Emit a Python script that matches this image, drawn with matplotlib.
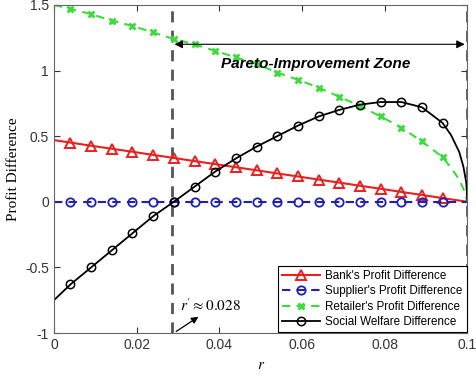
import matplotlib
import matplotlib.pyplot as plt
import numpy as np

matplotlib.use('Agg')

# marker positions along r
r_mark = [0.004, 0.009, 0.014, 0.019, 0.024, 0.029, 0.034, 0.039, 0.044, 0.049,
          0.054, 0.059, 0.064, 0.069, 0.074, 0.079, 0.084, 0.089, 0.094]

# Bank's profit difference (line from r=0 to r=0.1)
bank_r = [0.0] + r_mark + [0.1]
bank = [0.47, 0.451, 0.427, 0.404, 0.381, 0.357, 0.334, 0.310, 0.287, 0.263, 0.240,
        0.216, 0.193, 0.169, 0.146, 0.122, 0.099, 0.075, 0.052, 0.028, 0.0]

# Supplier's profit difference
sup_r = [0.0] + r_mark + [0.1]
sup = [0.0] * len(sup_r)

# Retailer's profit difference
ret_r = [0.0] + r_mark + [0.096, 0.098, 0.099, 0.1]
ret = [1.50, 1.47, 1.43, 1.38, 1.34, 1.29, 1.24, 1.20, 1.15, 1.10, 1.05,
       0.985, 0.93, 0.87, 0.80, 0.73, 0.65, 0.565, 0.46, 0.34,
       0.26, 0.17, 0.10, 0.0]

# Social welfare difference
sw_r = [0.0] + r_mark + [0.096, 0.098, 0.099, 0.0997, 0.1]
sw = [-0.75, -0.63, -0.50, -0.37, -0.24, -0.11, 0.0, 0.115, 0.23, 0.33, 0.42,
      0.50, 0.58, 0.65, 0.70, 0.74, 0.76, 0.76, 0.72, 0.60,
      0.51, 0.38, 0.27, 0.15, 0.0]

r_prime = 0.0285

mk = list(range(1, len(r_mark) + 1))

fig = plt.figure(figsize=(4.77, 3.78), dpi=100)
ax = fig.add_axes([0.113, 0.119, 0.867, 0.868])

ax.plot(bank_r, bank, color='#e82020', lw=1.5, marker='^', ms=6.5, mfc='none', mew=1.4,
        markevery=mk, label="Bank's Profit Difference")
ax.plot(sup_r, sup, color='#2020b8', lw=1.5, ls=(0, (4, 3)), marker='o', ms=6, mfc='none',
        mew=1.3, markevery=mk, label="Supplier's Profit Difference")
ax.plot(ret_r, ret, color='#3ddc3d', lw=1.5, ls=(0, (4, 3)), marker='x', ms=4.5, mew=2,
        markevery=mk, label="Retailer's Profit Difference")
ax.plot(sw_r, sw, color='black', lw=1.3, marker='o', ms=6, mfc='none', mew=1.1,
        markevery=mk, label='Social Welfare Difference')

# zone boundaries
for xv in (r_prime, 0.1):
    ax.plot([xv, xv], [-1, 1.5], color='#555555', lw=2, ls=(0, (4, 3)), zorder=1)

ax.annotate('', xy=(r_prime, 1.2), xytext=(0.1, 1.2),
            arrowprops=dict(arrowstyle='<|-|>', color='black', lw=0.8, mutation_scale=12))
ax.text(0.0634, 1.05, 'Pareto-Improvement Zone', ha='center', va='center',
        fontsize=11, fontweight='bold', fontstyle='italic', family='Liberation Sans')

ax.annotate('', xy=(0.0355, -0.865), xytext=(r_prime + 0.0005, -1.0),
            arrowprops=dict(arrowstyle='-|>', color='black', lw=0.9, mutation_scale=10))
ax.text(0.0305, -0.79, r"$r' \approx 0.028$", fontsize=11, ha='left', va='center',
        math_fontfamily='stix')

ax.set_xlim(0, 0.1)
ax.set_ylim(-1, 1.5)
ax.set_xticks([0, 0.02, 0.04, 0.06, 0.08, 0.1])
ax.set_xticklabels(['0', '0.02', '0.04', '0.06', '0.08', '0.1'])
ax.set_yticks([-1, -0.5, 0, 0.5, 1, 1.5])
ax.set_yticklabels(['-1', '-0.5', '0', '0.5', '1', '1.5'])
ax.tick_params(direction='in', length=4, labelsize=10, labelcolor='#333333',
               color='#333333', top=True, right=True)
for lab in ax.get_xticklabels() + ax.get_yticklabels():
    lab.set_family('Liberation Sans')
for s in ax.spines.values():
    s.set_color('#666666')
    s.set_linewidth(0.8)

ax.set_xlabel('$r$', fontsize=11, math_fontfamily='stix', labelpad=4)
ax.set_ylabel('Profit Difference', fontsize=11, family='Liberation Serif', labelpad=4)

leg = ax.legend(loc='lower right', prop={'family': 'Liberation Sans', 'size': 8.4},
                fancybox=False, framealpha=1, edgecolor='black', borderpad=0.35,
                labelspacing=0.3, handlelength=3.2, handletextpad=0.5, borderaxespad=0.05)
leg.get_frame().set_linewidth(0.8)

plt.savefig('out.png', dpi=100)
plt.close()
